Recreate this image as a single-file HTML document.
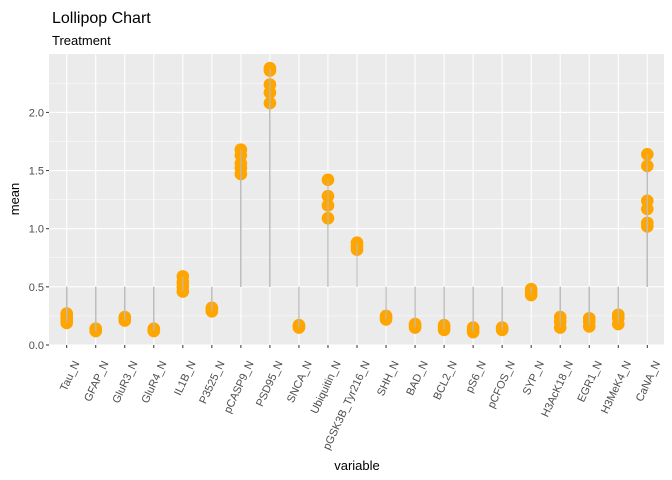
<!DOCTYPE html>
<html><head><meta charset="utf-8"><style>
body{margin:0;background:#fff;}
svg{display:block;font-family:"Liberation Sans",sans-serif;}
</style></head><body>
<svg id="c" width="672" height="480">
<text x="52" y="23" font-size="16" fill="#000">Lollipop Chart</text>
<text x="52" y="45" font-size="13" fill="#000">Treatment</text>
<rect x="49" y="54" width="615" height="291" fill="#ebebeb"/>
<g id="grid"></g><g id="marks"></g><g id="axes"></g>
<text x="357" y="470" font-size="13" text-anchor="middle" fill="#000">variable</text>
<text transform="translate(19,199) rotate(-90)" font-size="13" text-anchor="middle" fill="#000">mean</text>
</svg>
<script>
const categories=["Tau_N","GFAP_N","GluR3_N","GluR4_N","IL1B_N","P3525_N","pCASP9_N","PSD95_N","SNCA_N","Ubiquitin_N","pGSK3B_Tyr216_N","SHH_N","BAD_N","BCL2_N","pS6_N","pCFOS_N","SYP_N","H3AcK18_N","EGR1_N","H3MeK4_N","CaNA_N"];
const values=[
[0.19,0.21,0.23,0.25,0.27],[0.12,0.13,0.14],[0.21,0.23,0.24],[0.12,0.13,0.14],[0.46,0.5,0.54,0.59],
[0.29,0.31,0.32],[1.47,1.52,1.56,1.63,1.68],[2.08,2.17,2.24,2.36,2.38],[0.15,0.16,0.17],[1.09,1.2,1.28,1.42],
[0.82,0.85,0.88],[0.22,0.24,0.25],[0.15,0.17,0.18],[0.13,0.15,0.17],[0.11,0.13,0.15],[0.13,0.14,0.15],
[0.43,0.46,0.48],[0.15,0.2,0.24],[0.16,0.2,0.23],[0.18,0.23,0.26],[1.02,1.05,1.17,1.24,1.54,1.64]];
const yTicks=[0,0.5,1,1.5,2];
const yLabels=["0.0","0.5","1.0","1.5","2.0"];
const base=0.5;
const NS="http://www.w3.org/2000/svg";
const y=v=>345-v*116.3;
const x=i=>66.7+i*29.03;
function mk(t,a,p){const e=document.createElementNS(NS,t);for(const k in a)e.setAttribute(k,a[k]);p.appendChild(e);return e;}
const grid=document.getElementById('grid'),marks=document.getElementById('marks'),axes=document.getElementById('axes');
for(let k=0;k<yTicks.length-1;k++){const m=(yTicks[k]+yTicks[k+1])/2;
const g=mk('line',{x1:49,x2:664,y1:y(m),y2:y(m),stroke:'#fff','stroke-width':0.5},grid);

}
{const m=2.25;const g=mk('line',{x1:49,x2:664,y1:y(m),y2:y(m),stroke:'#fff','stroke-width':0.5},grid);

}
yTicks.forEach((t,k)=>{
const g=mk('line',{x1:49,x2:664,y1:y(t),y2:y(t),stroke:'#fff','stroke-width':1.1},grid);


const tk=mk('line',{x1:46,x2:49,y1:y(t),y2:y(t),stroke:'#333','stroke-width':1},axes);


const tl=mk('text',{x:44,y:y(t)+4,'font-size':11,'text-anchor':'end',fill:'#4d4d4d'},axes);
tl.textContent=yLabels[k];

});
categories.forEach((c,i)=>{
const g=mk('line',{x1:x(i),x2:x(i),y1:54,y2:345,stroke:'#fff','stroke-width':1.1},grid);


values[i].forEach(v=>{
const s=mk('line',{x1:x(i),x2:x(i),y1:y(base),y2:y(v),stroke:'#bdbdbd','stroke-width':1},marks);

});
values[i].forEach(v=>{
const p=mk('circle',{cx:x(i),cy:y(v),r:6.3,fill:'orange'},marks);

});
values[i].forEach(v=>{
const s=mk('line',{x1:x(i),x2:x(i),y1:y(base),y2:y(v),stroke:'#bdbdbd','stroke-width':1,'stroke-opacity':0.9},marks);

});
const tk=mk('line',{x1:x(i),x2:x(i),y1:345,y2:348,stroke:'#333','stroke-width':1},axes);


const tl=mk('text',{transform:`translate(${x(i)+13},363) rotate(-65)`,'font-size':11,'text-anchor':'end',fill:'#4d4d4d'},axes);
tl.textContent=c;

});
</script>
</body></html>
